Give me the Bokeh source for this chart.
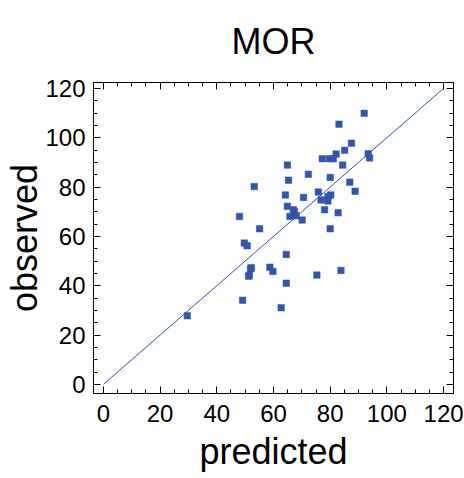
from bokeh.plotting import figure
from bokeh.models import LinearAxis, FixedTicker, Range1d
from bokeh.embed import file_html
from bokeh.resources import INLINE

predicted = [92.0, 83.1, 87.5, 85.1, 82.1, 93.4, 93.9, 77.2, 79.7, 81.1,
             64.9, 84.4, 72.3, 65.3, 80.0, 86.9, 88.8, 75.8, 64.2, 70.6,
             80.2, 79.2, 76.8, 79.2, 64.9, 78.0, 67.0, 67.4, 65.8, 68.0,
             82.8, 70.1, 80.0, 53.2, 48.0, 55.1, 49.7, 50.7, 52.2, 51.9,
             58.7, 59.8, 51.2, 51.5, 49.1, 29.6, 64.5, 64.5, 75.3, 83.8, 62.7]
observed = [109.9, 105.5, 97.8, 94.9, 93.4, 93.5, 91.8, 91.5, 91.5, 91.5,
            88.9, 88.9, 85.2, 82.8, 83.9, 82.0, 78.3, 78.0, 76.8, 75.8,
            76.8, 76.2, 74.8, 74.4, 72.2, 70.8, 70.8, 70.1, 68.1, 68.4,
            69.6, 66.6, 63.1, 80.2, 68.1, 63.1, 57.3, 56.2, 47.3, 46.9,
            47.5, 45.8, 43.8, 44.2, 34.1, 27.8, 52.7, 41.0, 44.3, 46.2, 31.1]
identity_x = [0, 120]
identity_y = [0, 120]
major_ticks = [0, 20, 40, 60, 80, 100, 120]
minor_ticks = list(range(0, 125, 5))
title_text = "MOR"

BLUE = "#3355aa"
FONT = "Liberation Sans"

p = figure(width=464, height=478, output_backend="svg", toolbar_location=None,
           x_range=Range1d(-3.5, 123.5), y_range=Range1d(-3.7, 122.4),
           min_border_left=93, min_border_right=11, min_border_top=82,
           min_border_bottom=85, x_axis_location=None, y_axis_location=None)
p.grid.visible = False
p.outline_line_color = "black"
p.outline_line_width = 1
p.background_fill_color = "white"
p.border_fill_color = "white"

p.title.text = title_text
p.title.text_font = FONT
p.title.text_font_size = "36px"
p.title.text_font_style = "normal"
p.title.align = "center"
p.title.vertical_align = "top"
p.title.text_color = "black"
p.title.standoff = 37


def style(ax):
    ax.ticker = FixedTicker(ticks=major_ticks, minor_ticks=minor_ticks)
    ax.axis_line_color = "black"
    ax.major_tick_line_color = "black"
    ax.minor_tick_line_color = "black"
    ax.major_tick_in = 7
    ax.major_tick_out = 0
    ax.minor_tick_in = 4
    ax.minor_tick_out = 0
    ax.major_label_text_font = FONT
    ax.major_label_text_font_size = "24px"
    ax.major_label_text_color = "black"
    ax.major_label_standoff = 8
    ax.axis_label_text_font = FONT
    ax.axis_label_text_font_size = "36px"
    ax.axis_label_text_font_style = "normal"
    ax.axis_label_text_color = "black"


def tick_only(side):
    # mirrored frame ticks without labels: long ticks at majors, short at minors
    for marks, length in ((major_ticks, 7), (minor_ticks, 4)):
        ax = LinearAxis(ticker=FixedTicker(ticks=[], minor_ticks=marks))
        ax.axis_line_color = "black"
        ax.major_tick_line_color = None
        ax.minor_tick_line_color = "black"
        ax.minor_tick_in = length
        ax.minor_tick_out = 0
        ax.major_tick_out = 0
        ax.major_tick_in = 0
        ax.major_label_standoff = 0
        p.add_layout(ax, side)


xb = LinearAxis(axis_label="predicted")
style(xb)
xb.major_label_standoff = 11
xb.axis_label_standoff = 6
p.add_layout(xb, "below")

yl = LinearAxis(axis_label="observed")
style(yl)
yl.axis_label_standoff = -3
p.add_layout(yl, "left")

tick_only("above")
tick_only("right")

p.line(identity_x, identity_y, line_color=BLUE, line_width=1)
p.scatter(predicted, observed, marker="square", size=6.5,
          fill_color=BLUE, line_color=BLUE, line_width=0.5)

open("out.html", "w").write(file_html(p, INLINE))
